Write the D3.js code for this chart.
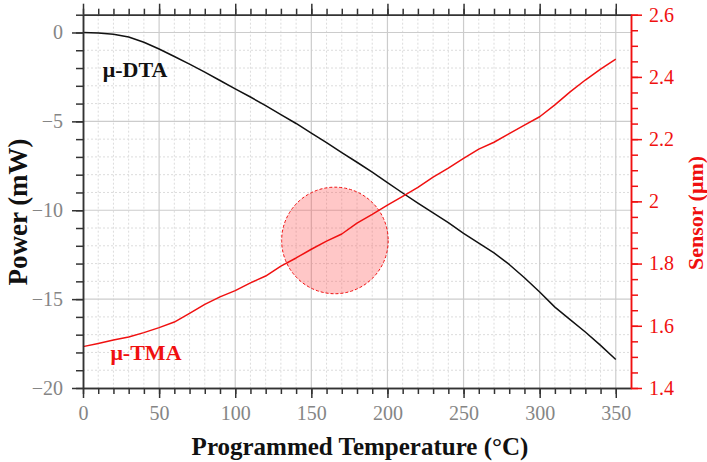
<!DOCTYPE html>
<html>
<head>
<meta charset="utf-8">
<script src="https://cdn.jsdelivr.net/npm/d3@7/dist/d3.min.js"></script>
<style>
html,body{margin:0;padding:0;background:#fff;}
svg{display:block;font-family:"Liberation Serif","DejaVu Serif",serif;}
</style>
</head>
<body>
<svg id="chart" width="707" height="462"></svg>
<script>
// ---- data ----
const temperature = [0,10,20,30,40,50,60,70,80,90,100,110,120,130,140,150,160,170,180,190,200,210,220,230,240,250,260,270,280,290,300,310,320,330,340,350];
const dtaPower = [0,-0.03,-0.1,-0.25,-0.55,-0.93,-1.35,-1.78,-2.23,-2.7,-3.17,-3.63,-4.12,-4.62,-5.12,-5.66,-6.2,-6.76,-7.3,-7.86,-8.44,-9.03,-9.6,-10.15,-10.7,-11.3,-11.85,-12.4,-13.05,-13.8,-14.6,-15.45,-16.15,-16.85,-17.6,-18.4];
const tmaSensor = [1.533,1.543,1.554,1.564,1.578,1.594,1.612,1.64,1.669,1.693,1.713,1.738,1.76,1.792,1.818,1.846,1.872,1.895,1.93,1.958,1.988,2.016,2.045,2.078,2.107,2.138,2.168,2.19,2.218,2.245,2.272,2.31,2.352,2.39,2.425,2.457];
const xTicks = [0,50,100,150,200,250,300,350];
const xMinorTicks = d3.range(0,351,10);
const yLeftTicks = [0,-5,-10,-15,-20];
const yLeftMinorTicks = d3.range(-20,2,1);
const yRightTicks = [1.4,1.6,1.8,2,2.2,2.4,2.6];
const yRightMinorTicks = [1.4,1.45,1.5,1.55,1.6,1.65,1.7,1.75,1.8,1.85,1.9,1.95,2,2.05,2.1,2.15,2.2,2.25,2.3,2.35,2.4,2.45,2.5,2.55,2.6];
const highlight = {x: 165.5, y: -11.7, r: 35};
const labels = [{text:"μ-DTA", x: 13, y: -2.5, color:"#111"}, {text:"μ-TMA", x: 18, y: -18.4, color:"#f01010"}];

// ---- layout ----
const L = 83, R = 631, T = 14.7, B = 388;
const svg = d3.select("#chart");
const x = d3.scaleLinear().domain([0,360]).range([L,R]);
const yL = d3.scaleLinear().domain([-20,1]).range([B,T]);
const yR = d3.scaleLinear().domain([1.4,2.6]).range([B,T]);
const red = "#f01010";
const tickGray = "#858585";

// grid minor
const grid = svg.append("g");
grid.selectAll(".vmin").data(xMinorTicks.filter(d=>d%50!==0)).enter().append("line")
  .attr("x1",d=>x(d)).attr("x2",d=>x(d)).attr("y1",T).attr("y2",B)
  .attr("stroke","#dcdcdc").attr("stroke-width",1).attr("stroke-dasharray","2,2");
grid.selectAll(".hmin").data(yLeftMinorTicks.filter(d=>d%5!==0 && d<1)).enter().append("line")
  .attr("x1",L).attr("x2",R).attr("y1",d=>yL(d)).attr("y2",d=>yL(d))
  .attr("stroke","#dcdcdc").attr("stroke-width",1).attr("stroke-dasharray","2,2");
// grid major
grid.selectAll(".vmaj").data(xTicks.filter(d=>d>0)).enter().append("line")
  .attr("x1",d=>x(d)).attr("x2",d=>x(d)).attr("y1",T).attr("y2",B)
  .attr("stroke","#cccccc").attr("stroke-width",1.2);
grid.selectAll(".hmaj").data(yLeftTicks.filter(d=>d>-20)).enter().append("line")
  .attr("x1",L).attr("x2",R).attr("y1",d=>yL(d)).attr("y2",d=>yL(d))
  .attr("stroke","#cccccc").attr("stroke-width",1.2);

// highlight circle
svg.append("ellipse")
  .attr("cx",x(highlight.x)).attr("cy",yL(highlight.y))
  .attr("rx",x(highlight.r)-x(0)).attr("ry",x(highlight.r)-x(0))
  .attr("fill","rgba(255,70,70,0.3)").attr("stroke",red).attr("stroke-width",1)
  .attr("stroke-dasharray","3,2");

// lines
const dtaLine = d3.line().x((d,i)=>x(temperature[i])).y(d=>yL(d));
const tmaLine = d3.line().x((d,i)=>x(temperature[i])).y(d=>yR(d));
svg.append("path").attr("d",dtaLine(dtaPower)).attr("fill","none").attr("stroke","#111").attr("stroke-width",1.5).attr("stroke-linejoin","round");
svg.append("path").attr("d",tmaLine(tmaSensor)).attr("fill","none").attr("stroke",red).attr("stroke-width",1.5).attr("stroke-linejoin","round");

// axes
function styleAxis(g, color, labelColor){
  g.select(".domain").attr("stroke",color).attr("stroke-width",1.5);
  g.selectAll(".tick line").attr("stroke",color).attr("stroke-width",1.5);
  g.selectAll("text").attr("fill",labelColor).style("font-size","20px").style("font-family","Liberation Serif");
}
// bottom minor + major
const bMin = svg.append("g").attr("transform",`translate(0,${B})`)
  .call(d3.axisBottom(x).tickValues(xMinorTicks).tickSize(6).tickFormat("").tickSizeOuter(0));
styleAxis(bMin,"#333","none");
const bMaj = svg.append("g").attr("transform",`translate(0,${B})`)
  .call(d3.axisBottom(x).tickValues(xTicks).tickSize(10).tickPadding(8).tickSizeOuter(0));
styleAxis(bMaj,"#333",tickGray);
// top
const tMin = svg.append("g").attr("transform",`translate(0,${T})`)
  .call(d3.axisTop(x).tickValues(xMinorTicks).tickSize(6).tickFormat("").tickSizeOuter(0));
styleAxis(tMin,"#333","none");
const tMaj = svg.append("g").attr("transform",`translate(0,${T})`)
  .call(d3.axisTop(x).tickValues(xTicks).tickSize(11).tickFormat("").tickSizeOuter(0));
styleAxis(tMaj,"#333","none");
// left
const lMin = svg.append("g").attr("transform",`translate(${L},0)`)
  .call(d3.axisLeft(yL).tickValues(yLeftMinorTicks).tickSize(7).tickFormat("").tickSizeOuter(0));
styleAxis(lMin,"#333","none");
const lMaj = svg.append("g").attr("transform",`translate(${L},0)`)
  .call(d3.axisLeft(yL).tickValues(yLeftTicks).tickSize(11).tickPadding(9).tickSizeOuter(0));
styleAxis(lMaj,"#333",tickGray);
// right
const rMin = svg.append("g").attr("transform",`translate(${R},0)`)
  .call(d3.axisRight(yR).tickValues(yRightMinorTicks).tickSize(7).tickFormat("").tickSizeOuter(0));
styleAxis(rMin,red,"none");
const rMaj = svg.append("g").attr("transform",`translate(${R},0)`)
  .call(d3.axisRight(yR).tickValues(yRightTicks).tickSize(11).tickPadding(7).tickSizeOuter(0).tickFormat(d3.format("")));
styleAxis(rMaj,red,red);

// axis titles
svg.append("text").attr("x",(L+R)/2 + 3).attr("y",455).attr("text-anchor","middle")
  .style("font-size","25px").style("font-weight","bold").attr("fill","#111")
  .text("Programmed Temperature (°C)");
svg.append("text").attr("transform",`translate(27,212) rotate(-90)`).attr("text-anchor","middle")
  .style("font-size","27px").style("font-weight","bold").attr("fill","#111")
  .text("Power (mW)");
svg.append("text").attr("transform",`translate(703,213) rotate(-90)`).attr("text-anchor","middle")
  .style("font-size","22px").style("font-weight","bold").attr("fill",red)
  .text("Sensor (μm)");

// series labels
svg.selectAll(".slab").data(labels).enter().append("text")
  .attr("x",d=>x(d.x)).attr("y",d=>yL(d.y)).attr("fill",d=>d.color)
  .style("font-size","22px").style("font-weight","bold").text(d=>d.text);
</script>
</body>
</html>
